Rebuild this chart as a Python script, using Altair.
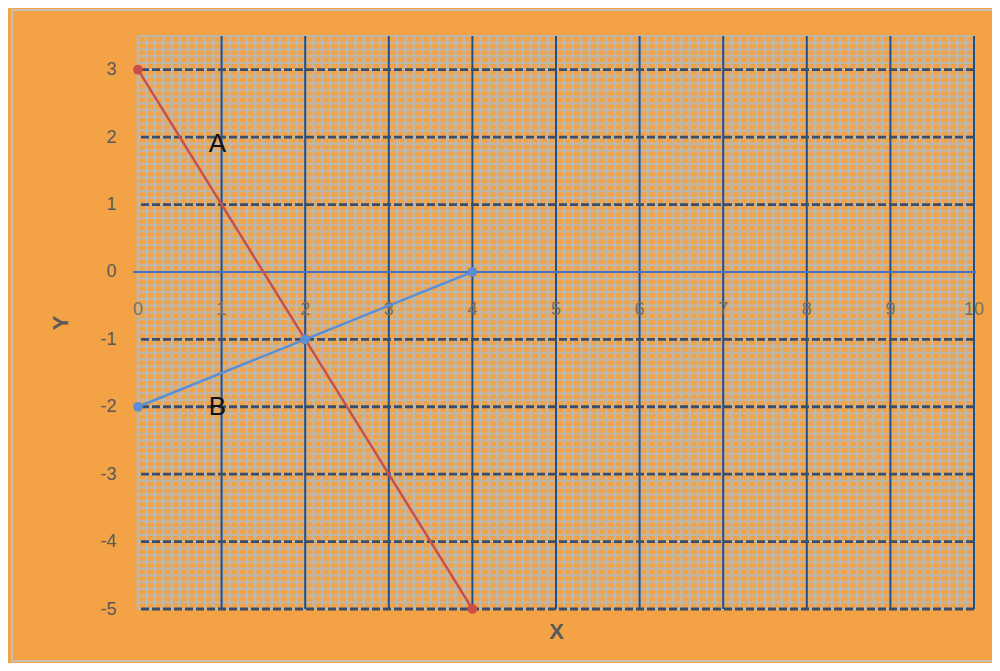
import altair as alt
import numpy as np
import pandas as pd

# Data
x_vals = [0, 2, 4]
series_a = [3, -1, -5]
series_b = [-2, -1, 0]
ann_text = ["A", "B"]
ann_x = [0.95, 0.95]
ann_y = [1.9, -2.0]
x_ticks = list(range(0, 11))
y_ticks = [3, 2, 1, 0, -1, -2, -3, -4, -5]

df = pd.DataFrame({
    "x": x_vals * 2,
    "y": series_a + series_b,
    "s": ["A"] * 3 + ["B"] * 3,
})
ann = pd.DataFrame({"t": ann_text, "x": ann_x, "y": ann_y})

W, H = 836, 573
xs = alt.Scale(domain=[0, 10], nice=False, zero=False)
ys = alt.Scale(domain=[-5, 3.5], nice=False, zero=False)

minor_x = pd.DataFrame({"v": np.round(np.arange(0, 10.001, 0.1), 2)})
minor_y = pd.DataFrame({"v": np.round(np.arange(-5, 3.501, 0.1), 2)})
major_x = pd.DataFrame({"v": [v for v in x_ticks if v != 0]})
major_y = pd.DataFrame({"v": [v for v in y_ticks if v != 0]})
xt = pd.DataFrame({"v": x_ticks})

GRAY = "#BDB7AC"
FONT = "Liberation Sans"

frame = alt.Chart(pd.DataFrame({"a": [0]})).mark_rect(
    fill=None, stroke="#C9C0B4", strokeWidth=2
).encode(x=alt.value(-126), x2=alt.value(W + 20), y=alt.value(-26), y2=alt.value(H + 52))

mx = alt.Chart(minor_x).mark_rule(color=GRAY, strokeWidth=2.6).encode(
    x=alt.X("v:Q", scale=xs, axis=alt.Axis(title="X", labels=False, ticks=False, domain=False,
                                           grid=False, titleFontSize=22, titleFontWeight="bold",
                                           titleColor="#595959", titlePadding=12,
                                           titleFont=FONT)),
)
my = alt.Chart(minor_y).mark_rule(color=GRAY, strokeWidth=2.2).encode(
    y=alt.Y("v:Q", scale=ys, axis=alt.Axis(title="Y", values=y_ticks, ticks=False, domain=False,
                                           grid=False, labelFontSize=18, labelColor="#595959",
                                           labelPadding=22, labelFont=FONT,
                                           labelExpr="'' + datum.value",
                                           titleFontSize=22, titleFontWeight="bold",
                                           titleColor="#595959", titleFont=FONT,
                                           titleX=-66, titleY=H / 2, titleAngle=270)),
)
Mx = alt.Chart(major_x).mark_rule(color="#1F4E8C", strokeWidth=2).encode(
    x=alt.X("v:Q", scale=xs)
)
My = alt.Chart(major_y).mark_rule(color="#3D4D66", strokeWidth=2.8, strokeDash=[8, 3]).encode(
    y=alt.Y("v:Q", scale=ys)
)
zero_line = alt.Chart(pd.DataFrame({"v": [0]})).mark_rule(color="#4472C4", strokeWidth=2).encode(
    y=alt.Y("v:Q", scale=ys), x=alt.value(-5), x2=alt.value(W + 2)
)
xlabels = alt.Chart(xt).mark_text(
    fontSize=18, color="#7A7060", font=FONT, baseline="middle"
).encode(x=alt.X("v:Q", scale=xs), y=alt.value(274), text="v:Q")

cscale = alt.Scale(domain=["A", "B"], range=["#C8504B", "#5B8FD5"])
lines = alt.Chart(df).mark_line(strokeWidth=2.5).encode(
    x=alt.X("x:Q", scale=xs), y=alt.Y("y:Q", scale=ys),
    color=alt.Color("s:N", scale=cscale, legend=None),
)
pts = alt.Chart(df).mark_circle(size=95, opacity=1).encode(
    x=alt.X("x:Q", scale=xs), y=alt.Y("y:Q", scale=ys),
    color=alt.Color("s:N", scale=cscale, legend=None),
)
labels = alt.Chart(ann).mark_text(fontSize=26, color="#111111", font=FONT).encode(
    x=alt.X("x:Q", scale=xs), y=alt.Y("y:Q", scale=ys), text="t:N"
)

chart = alt.layer(frame, mx, my, Mx, My, zero_line, xlabels, lines, pts, labels).properties(
    width=W, height=H,
    background="#F4A246",
    padding={"left": 130, "top": 28, "right": 18, "bottom": 54},
    autosize=alt.AutoSizeParams(type="none"),
).configure_view(stroke=None)

chart.save("out.html", embed_options={"renderer": "svg", "actions": False})
